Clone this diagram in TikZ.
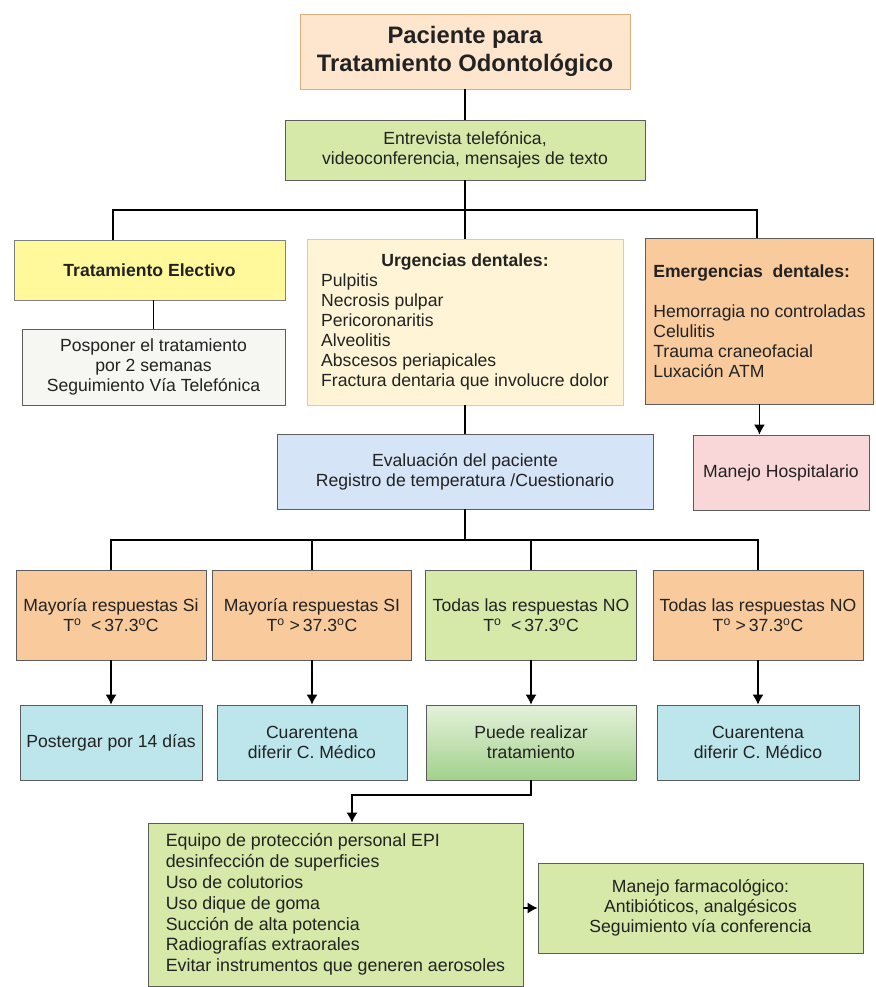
\documentclass[tikz,border=0pt]{standalone}
\usepackage{fontspec}
\setmainfont{Liberation Sans}
\usetikzlibrary{arrows.meta}

\definecolor{peach}{HTML}{FDE6CD}
\definecolor{peachline}{HTML}{D9AE78}
\definecolor{lime}{HTML}{D6E9A9}
\definecolor{lemon}{HTML}{FFF99C}
\definecolor{paper}{HTML}{F6F6F2}
\definecolor{cream}{HTML}{FFF5D6}
\definecolor{creamline}{HTML}{D8CEA0}
\definecolor{apricot}{HTML}{F9CA9C}
\definecolor{rose}{HTML}{F9D6D8}
\definecolor{sky}{HTML}{D5E4F7}
\definecolor{aqua}{HTML}{BDE6EC}
\definecolor{gradtop}{HTML}{E5F1DB}
\definecolor{gradbot}{HTML}{A2D18C}
\definecolor{boxline}{HTML}{5C5C5C}
\definecolor{ink}{HTML}{222222}

\begin{document}
\begin{tikzpicture}[x=1pt,y=-1pt,line width=1.2pt,>={Latex[length=10pt,width=11pt]},
    main node/.style={rectangle,draw=boxline,line width=0.9pt,text=ink,inner sep=0pt,
      align=center,font=\fontsize{17.6}{20}\selectfont},
    title node/.style={main node,fill=peach,draw=peachline,
      font=\bfseries\fontsize{23.8}{28}\selectfont},
    green node/.style={main node,fill=lime},
    orange node/.style={main node,fill=apricot},
    aqua node/.style={main node,fill=aqua}]

    \useasboundingbox (0,0) rectangle (875,987);

    % Define vertices
    \node[title node,minimum width=330,minimum height=75] (pac) at (465,51.5)
        {Paciente para\\Tratamiento Odontológico};
    \node[green node,minimum width=360,minimum height=60] (tel) at (465,150)
        {Entrevista telefónica,\\videoconferencia, mensajes de texto};

    \node[main node,fill=lemon,draw=gray,minimum width=271,minimum height=60] (ele) at (149.5,270)
        {\textbf{Tratamiento Electivo}};
    \node[main node,fill=paper,minimum width=263,minimum height=76] (pos) at (153.5,367)
        {Posponer el tratamiento\\por 2 semanas\\Seguimiento Vía Telefónica};
    \node[main node,fill=cream,draw=creamline,
          minimum width=316,minimum height=166] (urg) at (465,322)
        {\begin{tabular}{@{}l@{}}
         \multicolumn{1}{@{}c@{}}{\textbf{Urgencias dentales:}}\\
         Pulpitis\\Necrosis pulpar\\Pericoronaritis\\Alveolitis\\
         Abscesos periapicales\\Fractura dentaria que involucre dolor
         \end{tabular}};
    \node[orange node,align=left,anchor=west,
          minimum width=228,minimum height=166] (emer) at (645,321)
        {\textbf{Emergencias\ \ dentales:}\\[20pt]
         Hemorragia no controladas\\Celulitis\\Trauma craneofacial\\Luxación ATM};
    \node[main node,fill=rose,minimum width=176,minimum height=75] (hosp) at (781,472.5)
        {Manejo Hospitalario};

    \node[main node,fill=sky,minimum width=376,minimum height=75] (eva) at (465,471.5)
        {Evaluación del paciente\\Registro de temperatura /Cuestionario};

    \node[orange node,minimum width=190,minimum height=90] (ma) at (111,615)
        {Mayoría respuestas Si\\T\textsuperscript{o}\ \ <\,37.3\textsuperscript{o}C};
    \node[orange node,minimum width=199,minimum height=90] (ms) at (312,615)
        {Mayoría respuestas SI\\T\textsuperscript{o} >\,37.3\textsuperscript{o}C};
    \node[green node,minimum width=211,minimum height=90] (tn) at (531,615)
        {Todas las respuestas NO\\T\textsuperscript{o}\ \ <\,37.3\textsuperscript{o}C};
    \node[orange node,minimum width=210,minimum height=90] (tdh) at (758,615)
        {Todas las respuestas NO\\T\textsuperscript{o} >\,37.3\textsuperscript{o}C};

    \node[aqua node,minimum width=182,minimum height=75] (pst) at (111,742.5)
        {Postergar por 14 días};
    \node[aqua node,minimum width=190,minimum height=75] (cua1) at (312,742.5)
        {Cuarentena\\diferir C. Médico};
    \node[main node,top color=gradtop,bottom color=gradbot,
          minimum width=210,minimum height=75] (pue) at (531,742.5)
        {Puede realizar\\tratamiento};
    \node[aqua node,minimum width=202,minimum height=75] (cua2) at (758,742.5)
        {Cuarentena\\diferir C. Médico};

    \node[green node,align=left,font=\fontsize{17.8}{20.8}\selectfont,
          minimum width=375,minimum height=163] (epi) at (335.5,904.5)
        {Equipo de protección personal EPI\\desinfección de superficies\\
         Uso de colutorios\\Uso dique de goma\\Succión de alta potencia\\
         Radiografías extraorales\\Evitar instrumentos que generen aerosoles};
    \node[green node,minimum width=325,minimum height=90] (far) at (700.5,908)
        {Manejo farmacológico:\\Antibióticos, analgésicos\\Seguimiento vía conferencia};

    % Draw edges
    \coordinate (busL) at (113,210);
    \coordinate (busR) at (757,210);
    \coordinate (busM) at (465,540);
    \coordinate (turn) at (352,795);

    \draw (pac) -- (tel);
    \draw (tel) -- (urg);
    \draw (busL |- ele.north) -- (busL) -- (busR) -- (busR |- emer.north);
    \draw (pos.north) -- (pos.north |- ele.south);
    \draw (urg) -- (eva);
    \draw[->] (emer.south) -- (emer.south |- hosp.north);

    \draw (eva) -- (busM);
    \draw (ma.north) |- (busM) -| (tdh.north);
    \draw (ms.north) -- (ms.north |- busM);
    \draw (tn.north) -- (tn.north |- busM);

    \path[->]
        (ma) edge (pst)
        (ms) edge (cua1)
        (tn) edge (pue)
        (tdh) edge (cua2);

    \draw[->] (pue.south) |- (turn) -- (turn |- epi.north);
    \draw[->] (epi.east |- far.west) -- (far.west);

\end{tikzpicture}
\end{document}
